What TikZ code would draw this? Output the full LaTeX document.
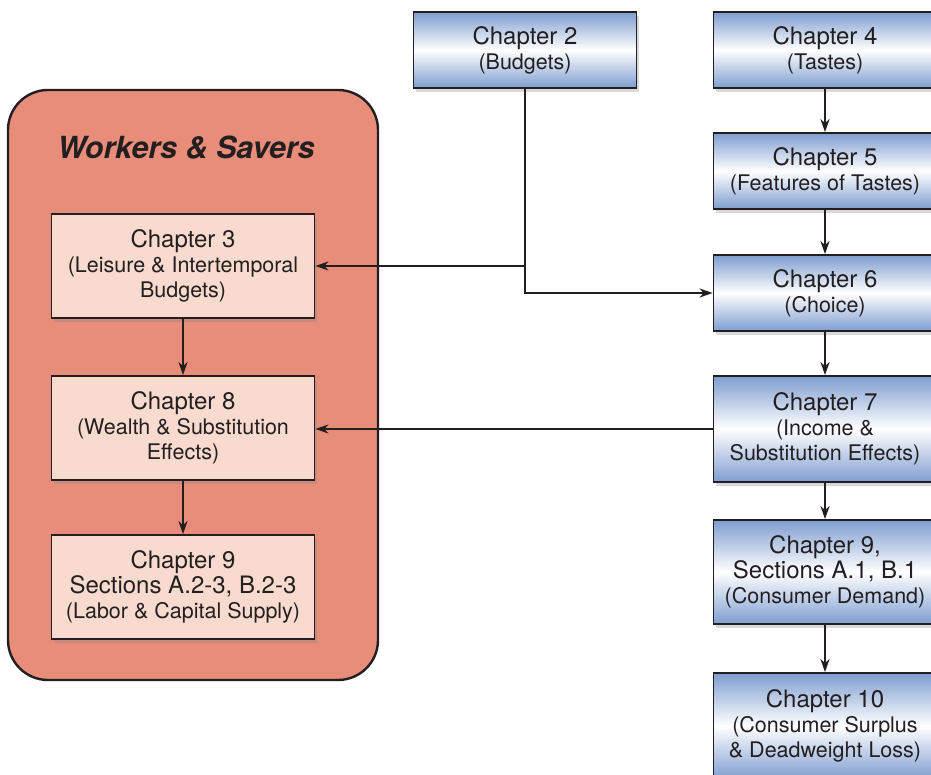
\documentclass[tikz,border=0pt]{standalone}
\usepackage{fontspec}
\setmainfont{TeX Gyre Heros}
\usetikzlibrary{shadows,arrows.meta}
\definecolor{panelred}{RGB}{233,141,123}
\definecolor{boxpink}{RGB}{248,218,206}
\definecolor{boxblue}{RGB}{126,157,208}
\definecolor{ink}{RGB}{35,31,32}
\newcommand{\chap}[1]{{\fontsize{24}{25}\selectfont #1}}
\tikzset{>={Stealth[length=13pt, width=9pt, inset=4pt]},
  box/.style={draw=ink, line width=1.8pt, align=center, text=ink,
    font=\fontsize{21.5}{25}\selectfont,
    drop shadow={shadow xshift=2pt, shadow yshift=-4pt, opacity=0.3}},
  bluebox/.style={box, top color=boxblue, bottom color=boxblue,
    middle color=white, minimum width=223pt, minimum height=76pt},
  pinkbox/.style={box, fill=boxpink, minimum width=263pt, minimum height=104pt},
  link/.style={->, draw=ink, line width=2pt}}

\begin{document}
\begin{tikzpicture}[x=1pt, y=-1pt]
  \useasboundingbox (0,0) rectangle (931,775);
  % left panel
  \draw[fill=panelred, draw=ink, line width=2.4pt, rounded corners=40pt] (8,90) rectangle (378,680);
  \node[text=ink, font=\fontsize{30.5}{32}\selectfont\bfseries\itshape] (ws) at (186,148) {Workers \& Savers};
  \node[pinkbox] (ch3) at (183,266) {\chap{Chapter 3}\\(Leisure \& Intertemporal\\Budgets)};
  \node[pinkbox] (ch8) at (183,428) {\chap{Chapter 8}\\(Wealth \& Substitution\\Effects)};
  \node[pinkbox] (ch9b) at (183,587) {\chap{Chapter 9}\\\chap{Sections A.2-3, B.2-3}\\(Labor \& Capital Supply)};
  % right column
  \node[bluebox] (ch2) at (525,50) {\chap{Chapter 2}\\(Budgets)};
  \node[bluebox] (ch4) at (825,50) {\chap{Chapter 4}\\(Tastes)};
  \node[bluebox] (ch5) at (825,171) {\chap{Chapter 5}\\(Features of Tastes)};
  \node[bluebox] (ch6) at (825,293) {\chap{Chapter 6}\\(Choice)};
  \node[bluebox, minimum height=106pt] (ch7) at (825,429) {\chap{Chapter 7}\\(Income \&\\Substitution Effects)};
  \node[bluebox, minimum height=104pt] (ch9a) at (825,572) {\chap{Chapter 9,}\\\chap{Sections A.1, B.1}\\(Consumer Demand)};
  \node[bluebox, minimum height=106pt] (ch10) at (825,726) {\chap{Chapter 10}\\(Consumer Surplus\\\& Deadweight Loss)};
  % connectors
  \coordinate (j) at (ch2.south |- ch3.east);
  \draw[link] (ch2.south) |- (ch6.west);
  \draw[link] (j) -- (ch3.east);
  \draw[link] (ch7.west) -- (ch7.west -| ch8.east);
  \draw[link] (ch3.south) -- (ch8.north);
  \draw[link] (ch8.south) -- (ch9b.north);
  \draw[link] (ch4.south) -- (ch5.north);
  \draw[link] (ch5.south) -- (ch6.north);
  \draw[link] (ch6.south) -- (ch7.north);
  \draw[link] (ch7.south) -- (ch9a.north);
  \draw[link] (ch9a.south) -- (ch10.north);
\end{tikzpicture}
\end{document}
